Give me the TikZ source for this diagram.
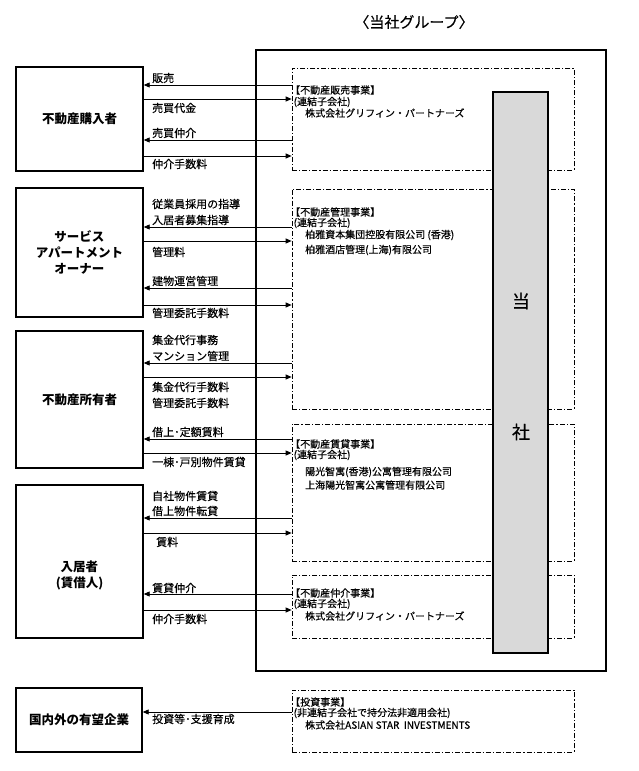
\documentclass[tikz,border=0pt]{standalone}
\usepackage{fontspec}
\setmainfont{Noto Sans CJK JP}
\newfontfamily\medjp{Noto Sans CJK JP}[FakeBold=0.35]
\usetikzlibrary{arrows.meta}
\begin{document}
\begin{tikzpicture}[x=1pt,y=-1pt,
  party/.style={draw,line width=1.4pt,minimum width=127pt,align=center,inner sep=0pt,
    font=\fontsize{12.5}{16}\selectfont\bfseries},
  seg/.style={draw,line width=0.7pt,dash pattern=on 5pt off 2pt on 1.2pt off 2pt,
    minimum width=282pt,inner sep=0pt},
  flow/.style={line width=0.9pt,-{Triangle[length=6pt,width=5pt]}},
  lbl/.style={anchor=west,inner sep=0pt,font=\medjp\fontsize{11}{13}\selectfont},
  dtx/.style={anchor=west,inner sep=0pt,font=\medjp\fontsize{10}{11}\selectfont},
]
\useasboundingbox (0,0) rectangle (638,771);

% title
\node[font=\medjp\fontsize{15}{18}\selectfont] (title) at (414,22) {〈当社グループ〉};

% outer frame of the group
\node[draw,line width=2.8pt,minimum width=350pt,minimum height=621pt] (grp) at (431,360.5) {};

% dashed business boxes
\node[seg,minimum height=102pt] (d1) at (433,119) {};
\node[seg,minimum height=220pt] (d2) at (433,299) {};
\node[seg,minimum height=137pt] (d3) at (433,492.5) {};
\node[seg,minimum height=63pt]  (d4) at (433,606.5) {};
\node[seg,minimum height=62pt]  (d5) at (433,721) {};

% company bar
\node[draw,line width=2pt,fill={rgb,255:red,217;green,217;blue,217},
  minimum width=55pt,minimum height=561pt] (co) at (520.5,372.5) {};
\node[font=\medjp\fontsize{18}{20}\selectfont] (co1) at (521,301) {当};
\node[font=\medjp\fontsize{18}{20}\selectfont] (co2) at (521,432) {社};

% left parties
\node[party,minimum height=104pt] (b1) at (79.5,119) {不動産購入者};
\node[party,minimum height=129pt] (b2) at (79.5,252.5) {サービス\\アパートメント\\オーナー};
\node[party,minimum height=137pt] (b3) at (79.5,399.5) {不動産所有者};
\node[party,minimum height=153pt] (b4) at (79.5,561.5) {};
\node[align=center,inner sep=0pt,font=\fontsize{12.5}{16}\selectfont\bfseries] (b4t) at (79.5,575) {入居者\\(賃借人)};
\node[party,minimum height=64pt,minimum width=126pt] (b5) at (79,720) {国内外の有望企業};

% texts in dashed boxes
\node[dtx] (t11) at (290,90) {【不動産販売事業】};
\node[dtx] (t12) at (293.5,102) {(連結子会社)};
\node[dtx] (t13) at (305,113) {株式会社グリフィン・パートナーズ};

\node[dtx] (t21) at (290,212) {【不動産管理事業】};
\node[dtx] (t22) at (293.5,223) {(連結子会社)};
\node[dtx] (t23) at (305,235) {柏雅資本集団控股有限公司 (香港)};
\node[dtx] (t24) at (305,250) {柏雅酒店管理(上海)有限公司};

\node[dtx] (t31) at (290,444) {【不動産賃貸事業】};
\node[dtx] (t32) at (293.5,455) {(連結子会社)};
\node[dtx] (t33) at (305,472) {陽光智寓(香港)公寓管理有限公司};
\node[dtx] (t34) at (305,485) {上海陽光智寓公寓管理有限公司};

\node[dtx] (t41) at (290,593) {【不動産仲介事業】};
\node[dtx] (t42) at (293.5,604) {(連結子会社)};
\node[dtx] (t43) at (305,616) {株式会社グリフィン・パートナーズ};

\node[dtx] (t51) at (290,702) {【投資事業】};
\node[dtx] (t52) at (293.5,713) {(非連結子会社で持分法非適用会社)};
\node[dtx] (t53) at (305,725) {株式会社ASIAN STAR\ \ INVESTMENTS};

% arrows group 1
\draw[flow] (d1.west |- 0,85)  -- (b1.east |- 0,85);
\draw[flow] (b1.east |- 0,99)  -- (d1.west |- 0,99);
\draw[flow] (d1.west |- 0,140) -- (b1.east |- 0,140);
\draw[flow] (b1.east |- 0,156) -- (d1.west |- 0,156);
\node[lbl] (l11) at (152,78)  {販売};
\node[lbl] (l12) at (152,108) {売買代金};
\node[lbl] (l13) at (152,133) {売買仲介};
\node[lbl] (l14) at (152,164) {仲介手数料};

% arrows group 2
\draw[flow] (d2.west |- 0,227) -- (b2.east |- 0,227);
\draw[flow] (b2.east |- 0,241) -- (d2.west |- 0,241);
\draw[flow] (d2.west |- 0,288) -- (b2.east |- 0,288);
\draw[flow] (b2.east |- 0,305) -- (d2.west |- 0,305);
\node[lbl] (l21) at (152,204) {従業員採用の指導};
\node[lbl] (l22) at (152,220) {入居者募集指導};
\node[lbl] (l23) at (152,252) {管理料};
\node[lbl] (l24) at (152,281) {建物運営管理};
\node[lbl] (l25) at (152,313) {管理委託手数料};

% arrows group 3
\draw[flow] (d2.west |- 0,363) -- (b3.east |- 0,363);
\draw[flow] (b3.east |- 0,377) -- (d2.west |- 0,377);
\draw[flow] (d3.west |- 0,439) -- (b3.east |- 0,439);
\draw[flow] (b3.east |- 0,453) -- (d3.west |- 0,453);
\node[lbl] (l31) at (152,340) {集金代行事務};
\node[lbl] (l32) at (152,356) {マンション管理};
\node[lbl] (l33) at (152,387) {集金代行手数料};
\node[lbl] (l34) at (152,403) {管理委託手数料};
\node[lbl] (l35) at (152,432) {借上･定額賃料};
\node[lbl] (l36) at (152,462) {一棟･戸別物件賃貸};

% arrows group 4
\draw[flow] (d3.west |- 0,518) -- (b4.east |- 0,518);
\draw[flow] (b4.east |- 0,533) -- (d3.west |- 0,533);
\draw[flow] (d4.west |- 0,594) -- (b4.east |- 0,594);
\draw[flow] (b4.east |- 0,610) -- (d4.west |- 0,610);
\node[lbl] (l41) at (152,496) {自社物件賃貸};
\node[lbl] (l42) at (152,511) {借上物件転貸};
\node[lbl] (l43) at (156,542) {賃料};
\node[lbl] (l44) at (152,588) {賃貸仲介};
\node[lbl] (l45) at (152,619) {仲介手数料};

% arrow group 5
\draw[flow] (d5.west |- 0,712) -- (b5.east |- 0,712);
\node[lbl] (l51) at (152,719) {投資等･支援育成};

\end{tikzpicture}
\end{document}
